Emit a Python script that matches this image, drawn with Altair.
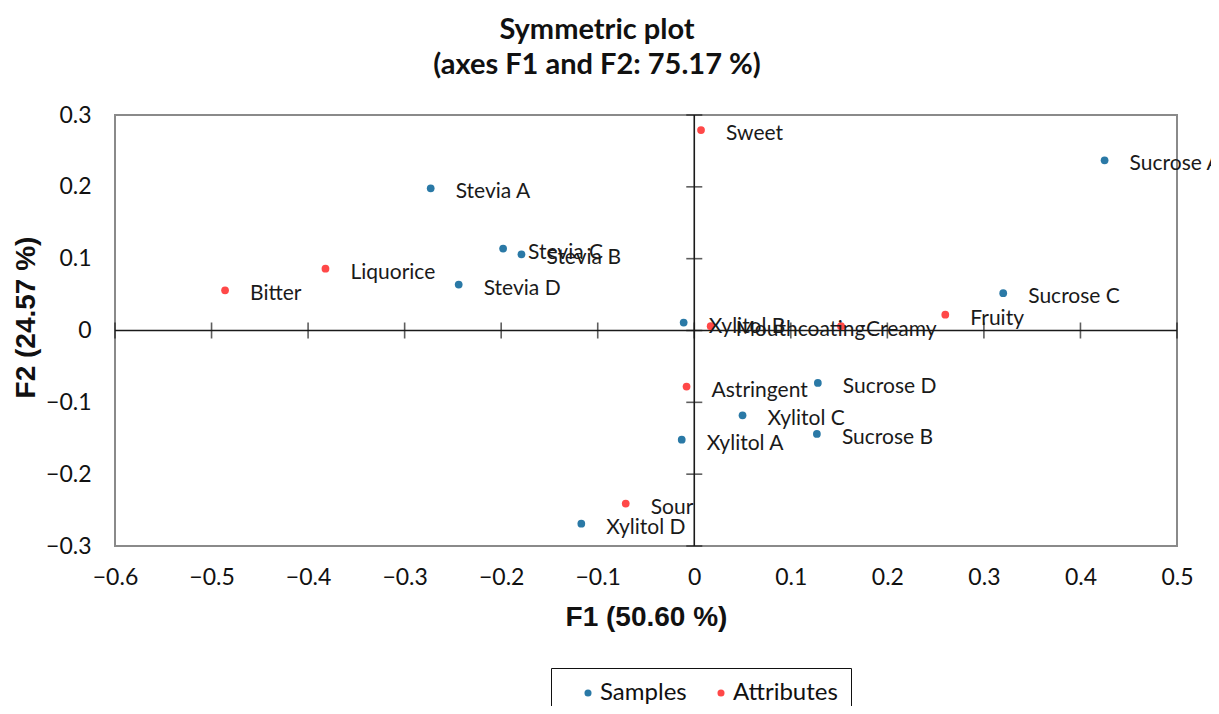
import altair as alt
import pandas as pd

# ---- data ----
sample_names = ["Stevia A", "Stevia B", "Stevia C", "Stevia D",
                "Sucrose A", "Sucrose B", "Sucrose C", "Sucrose D",
                "Xylitol A", "Xylitol B", "Xylitol C", "Xylitol D"]
sample_f1 = [-0.273, -0.179, -0.198, -0.244, 0.425, 0.127, 0.320, 0.128,
             -0.013, -0.011, 0.050, -0.117]
sample_f2 = [0.198, 0.106, 0.114, 0.064, 0.237, -0.144, 0.052, -0.073,
             -0.152, 0.011, -0.118, -0.269]

attr_names = ["Sweet", "Liquorice", "Bitter", "Mouthcoating", "Creamy",
              "Fruity", "Astringent", "Sour"]
attr_f1 = [0.007, -0.382, -0.486, 0.017, 0.152, 0.260, -0.008, -0.071]
attr_f2 = [0.279, 0.086, 0.056, 0.006, 0.006, 0.022, -0.078, -0.241]

x_ticks = [-0.6, -0.5, -0.4, -0.3, -0.2, -0.1, 0.0, 0.1, 0.2, 0.3, 0.4, 0.5]
y_ticks = [-0.3, -0.2, -0.1, 0.0, 0.1, 0.2, 0.3]

groups = ["Samples", "Attributes"]
colors = ["#2a79a6", "#ff4848"]

# ---- tables ----
pts = pd.DataFrame({
    "name": sample_names + attr_names,
    "F1": sample_f1 + attr_f1,
    "F2": sample_f2 + attr_f2,
    "group": ["Samples"] * len(sample_names) + ["Attributes"] * len(attr_names),
})
vticks = pd.DataFrame({"F1": [0.0] * len(y_ticks), "F2": y_ticks})
hticks = pd.DataFrame({"F1": x_ticks, "F2": [0.0] * len(x_ticks)})
vline = pd.DataFrame({"F1": [0.0], "F2": [y_ticks[0]], "F2b": [y_ticks[-1]]})
hline = pd.DataFrame({"F2": [0.0], "F1": [x_ticks[0]], "F1b": [x_ticks[-1]]})

LABEL_FONT = "Lato"
TITLE_FONT = "Liberation Sans"
INK = "#111111"

xscale = alt.Scale(domain=[x_ticks[0], x_ticks[-1]], nice=False, zero=False)
yscale = alt.Scale(domain=[y_ticks[0], y_ticks[-1]], nice=False, zero=False)

xenc = alt.X("F1:Q", scale=xscale,
             axis=alt.Axis(values=x_ticks, format=".1~f", title="F1 (50.60 %)",
                           ticks=False, domain=False, grid=False, labelFlush=False,
                           labelPadding=20, titlePadding=14))
yenc = alt.Y("F2:Q", scale=yscale,
             axis=alt.Axis(values=y_ticks, format=".1~f", title="F2 (24.57 %)",
                           ticks=False, domain=False, grid=False, labelFlush=False,
                           labelPadding=24, titlePadding=5, titleY=202))

base_line = alt.Chart(vline).mark_rule(color="#1a1a1a", strokeWidth=1.6).encode(
    x=alt.X("F1:Q", scale=xscale), y=alt.Y("F2:Q", scale=yscale), y2="F2b:Q")
base_hline = alt.Chart(hline).mark_rule(color="#1a1a1a", strokeWidth=1.6).encode(
    y=alt.Y("F2:Q", scale=yscale), x=alt.X("F1:Q", scale=xscale), x2="F1b:Q")
vt = alt.Chart(vticks).mark_tick(orient="horizontal", size=16, thickness=1.6,
                                 color="#1a1a1a").encode(
    x=alt.X("F1:Q", scale=xscale), y=alt.Y("F2:Q", scale=yscale))
ht = alt.Chart(hticks).mark_tick(orient="vertical", size=16, thickness=1.6,
                                 color="#1a1a1a").encode(
    x=alt.X("F1:Q", scale=xscale), y=alt.Y("F2:Q", scale=yscale))

points = alt.Chart(pts).mark_circle(size=60, opacity=1).encode(
    x=alt.X("F1:Q", scale=xscale),
    y=alt.Y("F2:Q", scale=yscale),
    color=alt.Color("group:N",
                    scale=alt.Scale(domain=groups, range=colors),
                    sort=groups,
                    legend=alt.Legend(title=None, orient="none",
                                      legendX=436, legendY=553,
                                      direction="horizontal",
                                      strokeColor=INK,
                                      padding=13, symbolOffset=12,
                                      symbolType="circle", symbolSize=50,
                                      labelFont=LABEL_FONT, labelFontSize=24,
                                      labelColor=INK, labelOffset=0,
                                      columnPadding=10)),
)
labels = alt.Chart(pts).mark_text(align="left", baseline="middle", dx=25, dy=4,
                                  font=LABEL_FONT, fontSize=21,
                                  color="#1a1a1a").encode(
    x=alt.X("F1:Q", scale=xscale),
    y=alt.Y("F2:Q", scale=yscale),
    text="name:N",
)

axes_holder = alt.Chart(pts).mark_point(opacity=0).encode(x=xenc, y=yenc)

chart = alt.layer(axes_holder, base_line, base_hline, vt, ht, points, labels).properties(
    width=1062, height=431,
    autosize=alt.AutoSizeParams(type="none"),
    padding={"left": 107, "top": 107, "right": 34, "bottom": 160},
    title=alt.TitleParams(["Symmetric plot", "(axes F1 and F2: 75.17 %)"],
                          font="Lato", fontSize=29, fontWeight="bold",
                          color=INK, lineHeight=35, offset=24,
                          anchor="middle", dx=-49),
).configure_view(stroke="#8a8a8a", strokeWidth=2).configure_axis(
    labelFont=LABEL_FONT, labelFontSize=23, labelColor=INK,
    titleFont=TITLE_FONT, titleFontSize=28, titleFontWeight="bold",
    titleColor=INK,
)

chart.save("out.html", embed_options={"renderer": "svg", "actions": False})
